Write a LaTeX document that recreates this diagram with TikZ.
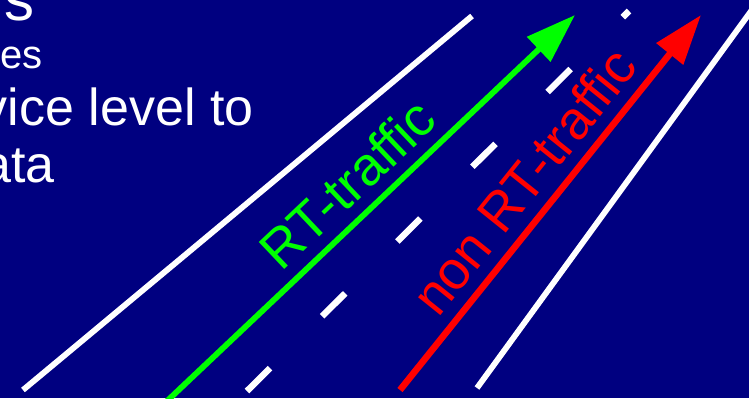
\documentclass[tikz,border=0pt]{standalone}
\usepackage{fontspec}
\setmainfont{Liberation Sans}
\usetikzlibrary{arrows.meta}
\definecolor{slideblue}{RGB}{0,0,128}
\definecolor{rtgreen}{RGB}{0,255,0}
\begin{document}
\begin{tikzpicture}[x=0.5pt,y=-0.5pt,
		lane/.style={white,line width=2.9pt},
		midlane/.style={white,line width=3.2pt,dash pattern=on 16.25pt off 36.75pt},
		flow/.style={line width=2.9pt,-{Triangle[length=25pt,width=16.5pt]}},
		flowlabel/.style={sloped,above,inner sep=5.5pt,font=\fontsize{27}{32}\selectfont},
		bullet/.style={white,anchor=base east,inner sep=0pt,font=\fontsize{26}{31}\selectfont}]
		\fill[slideblue] (0,0) rectangle (749,398);
		\useasboundingbox (0,0) rectangle (749,398);
		\clip (0,0) rectangle (749,398);
		\node[bullet,font=\fontsize{30}{36}\selectfont] (head) at (35,20) {s};
		\node[bullet,font=\fontsize{20}{24}\selectfont] (sub) at (43,68) {es};
		\node[bullet] (lineA) at (254,125) {vice level to};
		\node[bullet] (lineB) at (55,182) {ata};
		\coordinate (leftA) at (23,390);
		\coordinate (leftB) at (472,16);
		\coordinate (midA) at (247,391);
		\coordinate (midB) at (629,11);
		\coordinate (rightA) at (477,388);
		\coordinate (rightB) at (754,7);
		\coordinate (rtA) at (166,402);
		\coordinate (rtB) at (575,15);
		\coordinate (nrtA) at (400,390);
		\coordinate (nrtB) at (701,15);
		\draw[lane] (leftA) -- (leftB);
		\draw[lane] (rightA) -- (rightB);
		\draw[midlane] (midA) -- (midB);
		\draw[flow,rtgreen] (rtA) -- node[flowlabel] (rtlabel) {RT-traffic} (rtB);
		\draw[flow,red,line width=3.3pt] (nrtA) -- node[flowlabel] (nrtlabel) {non RT-traffic} (nrtB);
\end{tikzpicture}
\end{document}
